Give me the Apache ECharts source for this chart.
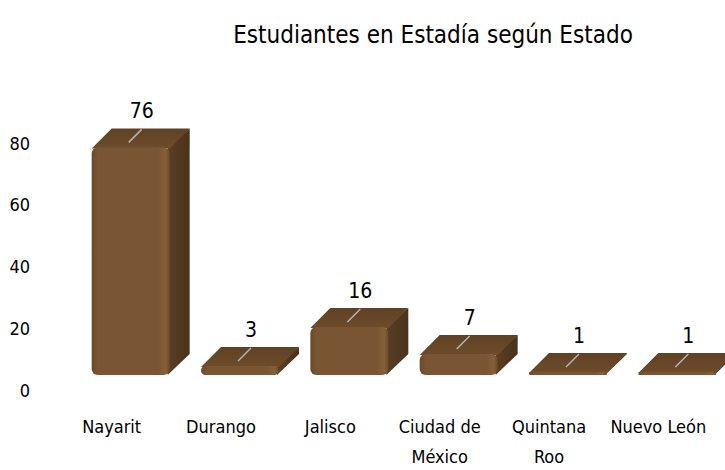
<!DOCTYPE html>
<html>
<head>
<meta charset="utf-8">
<script src="https://cdn.jsdelivr.net/npm/echarts@6/dist/echarts.min.js"></script>
<style>
html,body{margin:0;padding:0;background:#fff;}
#chart{width:725px;height:470px;}
</style>
</head>
<body>
<div id="chart"></div>
<script>
const title = "Estudiantes en Estadía según Estado";
const categories = ["Nayarit", "Durango", "Jalisco", "Ciudad de México", "Quintana Roo", "Nuevo León"];
const categoryLabels = ["Nayarit", "Durango", "Jalisco", "Ciudad de\nMéxico", "Quintana\nRoo", "Nuevo León"];
const values = [76, 3, 16, 7, 1, 1];
const yTicks = [0, 20, 40, 60, 80];

const FONT = "'Liberation Sans Narrow', 'DejaVu Sans Condensed', 'Roboto Condensed', sans-serif";

const chart = echarts.init(document.getElementById('chart'), null, {renderer: 'svg'});

function renderItem(params, api) {
  const i = api.value(0), v = api.value(1);
  const p0 = api.coord([i, 0]);
  const pv = api.coord([i, v]);
  const w = 78, dx = 20, dy = 19;
  const fc = p0[0] + 19;
  const fl = fc - w / 2, fr = fc + w / 2;
  const fb = p0[1] - 15;
  const ft = fb - (p0[1] - pv[1]) * 0.97;
  const cx = fc + 10, cy = ft - 10;
  const children = [
    { type: 'polygon', shape: { points: [[fr - 2, ft], [fr + dx, ft - dy], [fr + dx, fb - dy - 2], [fr - 2, fb]] },
      style: { fill: new echarts.graphic.LinearGradient(0, 0, 1, 0, [
        {offset: 0, color: '#5a3e23'}, {offset: 1, color: '#4a321c'}]) } },
    { type: 'polygon', shape: { points: [[fl, ft + 1], [fl + dx, ft - dy], [fr + dx, ft - dy], [fr, ft + 1]], smooth: 0 },
      style: { fill: new echarts.graphic.LinearGradient(0, 0, 0, 1, [
        {offset: 0, color: '#5f4125'}, {offset: 1, color: '#6e4c2b'}]) } },
    { type: 'rect', shape: { x: fl, y: ft, width: w, height: Math.max(fb - ft, 2), r: [6, 6, 6, 6] },
      style: { fill: new echarts.graphic.LinearGradient(0, 0, 1, 0, [
        {offset: 0, color: '#6b4a2a'}, {offset: 0.08, color: '#7a5533'},
        {offset: 0.85, color: '#7a5533'}, {offset: 0.95, color: '#85603a'}, {offset: 1, color: '#6b4a2a'}]) } },
    { type: 'line', shape: { x1: cx - 12, y1: cy + 5, x2: cx + 1, y2: cy - 8 },
      style: { stroke: '#b4b4b4', lineWidth: 1.5 } },
    { type: 'text', style: { text: String(v), x: cx + 1, y: cy - 16, align: 'center', verticalAlign: 'bottom',
      fontSize: 21, fontFamily: FONT, fill: '#000' } }
  ];
  return { type: 'group', children };
}

chart.setOption({
  animation: false,
  backgroundColor: '#fff',
  title: {
    text: title, left: 428, top: 18, textAlign: 'center',
    textStyle: { fontSize: 24, fontWeight: 'normal', fontFamily: FONT, color: '#000' }
  },
  grid: { left: 57, right: 12, top: 143, bottom: 80, outerBoundsMode: 'none', containLabel: false },
  xAxis: {
    type: 'category', data: categories,
    axisLine: { show: false }, axisTick: { show: false },
    axisLabel: { margin: 21, fontSize: 18, lineHeight: 30, fontFamily: FONT, color: '#000', interval: 0,
      formatter: (val, idx) => categoryLabels[idx] }
  },
  yAxis: {
    type: 'value', min: yTicks[0], max: yTicks[yTicks.length - 1], interval: 20,
    axisLine: { show: false }, axisTick: { show: false }, splitLine: { show: false },
    axisLabel: { margin: 27, fontSize: 18, fontFamily: FONT, color: '#000' }
  },
  series: [{
    type: 'custom', renderItem,
    data: values.map((v, i) => [i, v]),
    clip: false
  }]
});
</script>
</body>
</html>
